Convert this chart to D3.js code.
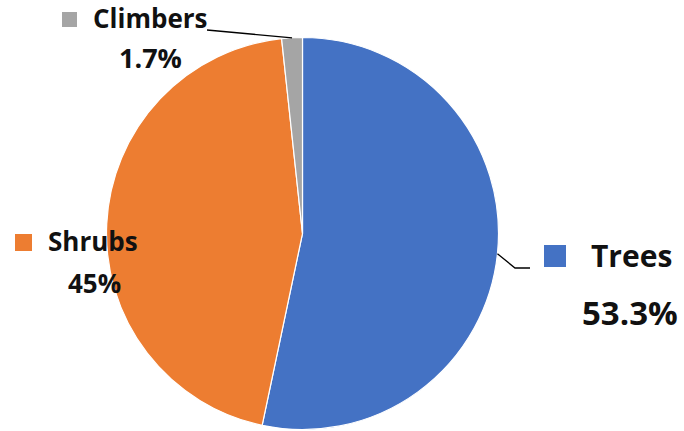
<!DOCTYPE html>
<html>
<head>
<meta charset="utf-8">
<script src="https://cdn.jsdelivr.net/npm/d3@7"></script>
<style>
  body { margin: 0; background: #fff; }
  svg { display: block; }
  text { font-family: "Open Sans", Lato, sans-serif; font-weight: bold; fill: #111; }
</style>
</head>
<body>
<div id="chart"></div>
<script>
// Plant types share (%)
const categories = ['Trees', 'Shrubs', 'Climbers'];
const values = [53.3, 45, 1.7];
const labels = ['53.3%', '45%', '1.7%'];
const colors = ['#4472C4', '#ED7D31', '#A5A5A5'];

const width = 684, height = 431;
const cx = 302.5, cy = 233.5, radius = 196;

// label placement (layout only)
const labelLayout = {
    Trees:    { boxX: 544, boxY: 245, box: 22, x: 591, y: 267, size: 30, pctX: 582, pctY: 325, pctSize: 33, leader: [[515, 268], [530, 268]] },
    Shrubs:   { boxX: 15,  boxY: 234, box: 17, x: 48,  y: 251, size: 26, pctX: 68,  pctY: 293, pctSize: 26, leader: null },
    Climbers: { boxX: 62,  boxY: 12,  box: 15, x: 93,  y: 28,  size: 26, pctX: 119, pctY: 68,  pctSize: 27, leader: [[207, 30]] }
};

const svg = d3.select('#chart').append('svg')
    .attr('width', width)
    .attr('height', height);

const g = svg.append('g')
    .attr('transform', `translate(${cx},${cy})`);

const pie = d3.pie().sort(null).value(d => d.value);
const arcs = pie(categories.map((c, i) => ({ name: c, value: values[i], color: colors[i], label: labels[i] })));

const arc = d3.arc().innerRadius(0).outerRadius(radius);

g.selectAll('path')
    .data(arcs)
    .join('path')
    .attr('d', arc)
    .attr('fill', d => d.data.color)
    .attr('stroke', '#fff')
    .attr('stroke-width', 1.2);

// leader lines start on the rim at the slice mid angle
arcs.forEach(d => {
    const lay = labelLayout[d.data.name];
    if (!lay.leader) return;
    const mid = (d.startAngle + d.endAngle) / 2;
    const start = [cx + radius * Math.sin(mid), cy - radius * Math.cos(mid)];
    const pts = [start].concat(lay.leader);
    svg.append('path')
        .attr('d', d3.line()(pts))
        .attr('fill', 'none')
        .attr('stroke', '#000')
        .attr('stroke-width', 1.3);
});

// labels
arcs.forEach(d => {
    const lay = labelLayout[d.data.name];
    svg.append('rect')
        .attr('x', lay.boxX)
        .attr('y', lay.boxY)
        .attr('width', lay.box)
        .attr('height', lay.box)
        .attr('fill', d.data.color);
    svg.append('text')
        .attr('x', lay.x)
        .attr('y', lay.y)
        .style('font-size', lay.size + 'px')
        .text(d.data.name);
    svg.append('text')
        .attr('x', lay.pctX)
        .attr('y', lay.pctY)
        .style('font-size', lay.pctSize + 'px')
        .text(d.data.label);
});
</script>
</body>
</html>
